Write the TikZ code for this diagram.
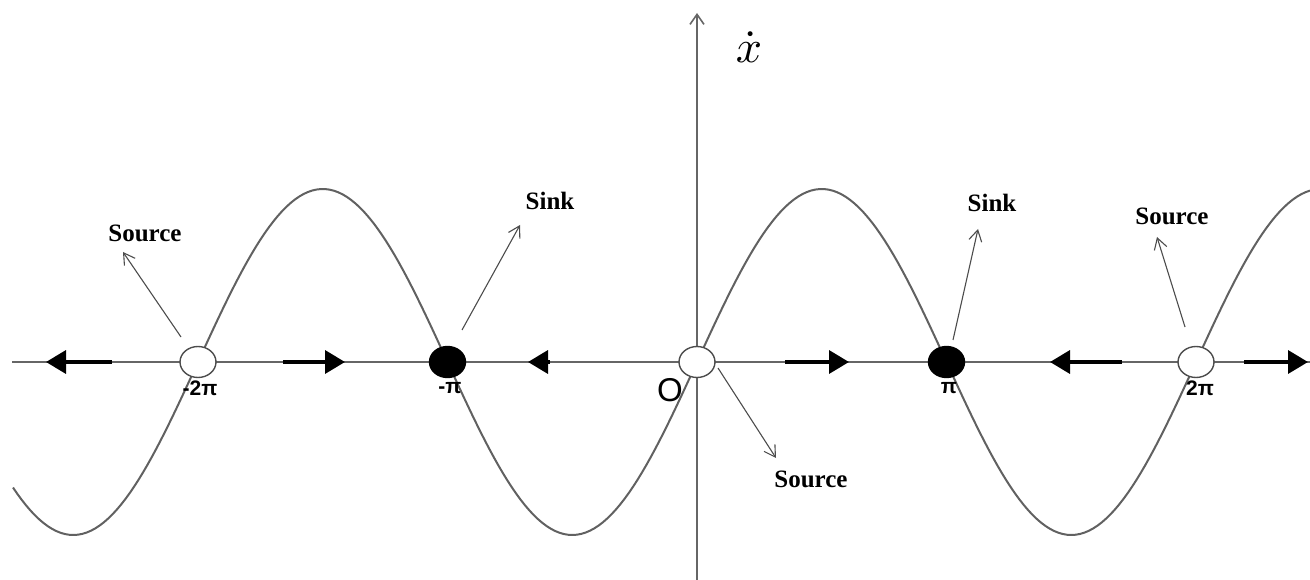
\documentclass[tikz,border=0pt]{standalone}
\usepackage{fontspec}
\setmainfont{Liberation Serif}
\setsansfont{Liberation Sans}
\usetikzlibrary{arrows.meta,shapes.geometric}
\begin{document}
\begin{tikzpicture}[x=1pt,y=-1pt,
  axis/.style={draw=black!60, line width=1.6pt},
  curve/.style={draw=black!62, line width=2pt},
  fp/.style={ellipse, draw=black!70, line width=1.4pt, minimum width=36pt, minimum height=31pt, inner sep=0pt},
  src/.style={fp, fill=white},
  snk/.style={fp, fill=black, draw=black},
  flow/.style={line width=3.5pt, -{Triangle[length=20pt,width=23pt]}},
  ann/.style={draw=black!70, line width=1.1pt, -{Straight Barb[length=11pt,width=13pt]}},
  lbl/.style={font=\fontsize{25}{28}\selectfont\bfseries, inner sep=0pt},
  pil/.style={font=\sffamily\bfseries\fontsize{21}{22}\selectfont, inner sep=0pt},
]
\useasboundingbox (0,0) rectangle (1310,580);
% axes
\coordinate (xl) at (12,362);
\coordinate (xr) at (1310,362);
\coordinate (yb) at (697,580);
\coordinate (yt) at (697,13);
\draw[axis] (xl) -- (xr);
\draw[axis, -{Straight Barb[length=10pt,width=14pt]}] (yb) -- (yt);
\node[inner sep=0pt] (xdot) at (749,47) {\scalebox{4.6}{$\dot{x}$}};
% curve
\draw[curve] plot[domain=13:1310, samples=300] (\x, {362-173*sin((\x-697)/249.5*180)});
% flow arrows
\coordinate (f1a) at (112,362); \coordinate (f1b) at (46,362);
\coordinate (f2a) at (283,362); \coordinate (f2b) at (345,362);
\coordinate (f3a) at (550,362); \coordinate (f3b) at (528,362);
\coordinate (f4a) at (785,362); \coordinate (f4b) at (849,362);
\coordinate (f5a) at (1122,362); \coordinate (f5b) at (1050,362);
\coordinate (f6a) at (1244,362); \coordinate (f6b) at (1308,362);
\draw[flow] (f1a) -- (f1b);
\draw[flow] (f2a) -- (f2b);
\draw[flow] (f3a) -- (f3b);
\draw[flow] (f4a) -- (f4b);
\draw[flow] (f5a) -- (f5b);
\draw[flow] (f6a) -- (f6b);
% fixed points
\node[src] (m2pi) at (198,362) {};
\node[snk] (mpi) at (447.5,362) {};
\node[src] (o) at (697,362) {};
\node[snk] (pi) at (946.5,362) {};
\node[src] (p2pi) at (1196,362) {};
% axis labels
\node[pil] (lm2pi) at (200,388) {-2\symbol{"03C0}};
\node[pil] (lmpi) at (450,388) {-\symbol{"03C0}};
\node[pil] (lpi) at (949,388) {\symbol{"03C0}};
\node[pil] (lp2pi) at (1200,388) {2\symbol{"03C0}};
\node[font=\sffamily\fontsize{33}{34}\selectfont, inner sep=0pt] (lo) at (670,390) {O};
% annotations
\node[lbl] (t1) at (145,233) {Source};
\node[lbl] (t2) at (550,201) {Sink};
\node[lbl] (t3) at (811,479) {Source};
\node[lbl] (t4) at (992,203) {Sink};
\node[lbl] (t5) at (1172,216) {Source};
\coordinate (a1) at (181,337); \coordinate (b1) at (123,252);
\coordinate (a2) at (462,330); \coordinate (b2) at (520,225);
\coordinate (a3) at (718,368); \coordinate (b3) at (776,458);
\coordinate (a4) at (953,340); \coordinate (b4) at (978,229);
\coordinate (a5) at (1185,327); \coordinate (b5) at (1157,237);
\draw[ann] (a1) -- (b1);
\draw[ann] (a2) -- (b2);
\draw[ann] (a3) -- (b3);
\draw[ann] (a4) -- (b4);
\draw[ann] (a5) -- (b5);
\end{tikzpicture}
\end{document}
